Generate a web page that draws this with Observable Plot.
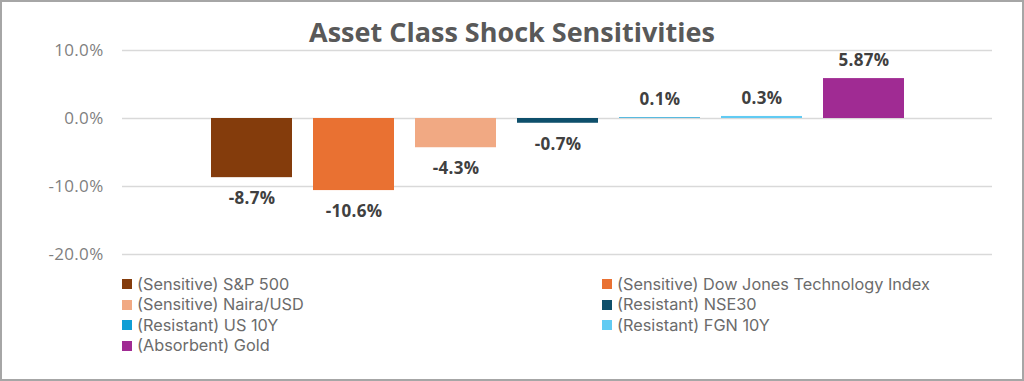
<!DOCTYPE html>
<html>
<head>
<meta charset="utf-8">
<script src="https://cdn.jsdelivr.net/npm/d3@7"></script>
<script src="https://cdn.jsdelivr.net/npm/@observablehq/plot@0.6"></script>
<style>
  html, body { margin: 0; padding: 0; background: #fff; }
  #wrap { position: relative; width: 1024px; height: 381px; overflow: hidden; font-family: "Open Sans", sans-serif; }
  #border { position: absolute; left: 0; top: 0; width: 1024px; height: 381px; box-sizing: border-box; border: 2px solid #a6a6a6; pointer-events: none; }
  #title { position: absolute; left: 0; top: 12px; width: 1024px; text-align: center; font-size: 27px; font-weight: 700; color: #595959; line-height: 40px; }
  #chart { position: absolute; left: 0; top: 0; }
  #chart svg text { letter-spacing: 0.3px; }
  #legend { position: absolute; left: 122px; top: 274px; display: grid; grid-template-columns: 480px 420px; row-gap: 0.5px; }
  .item { display: flex; align-items: center; height: 20px; line-height: 19px; font-family: Inter, sans-serif; font-size: 16.3px; color: #6b6b6b; white-space: nowrap; }
  .item span { line-height: 19px; }
  .sw { width: 10px; height: 10px; margin-right: 5px; flex: none; }
</style>
</head>
<body>
<div id="wrap">
  <div id="chart"></div>
  <div id="title">Asset Class Shock Sensitivities</div>
  <div id="legend"></div>
  <div id="border"></div>
</div>
<script>
const names = [
  "(Sensitive) S&P 500",
  "(Sensitive) Dow Jones Technology Index",
  "(Sensitive) Naira/USD",
  "(Resistant) NSE30",
  "(Resistant) US 10Y",
  "(Resistant) FGN 10Y",
  "(Absorbent) Gold"
];
const values = [-8.7, -10.6, -4.3, -0.7, 0.1, 0.3, 5.87];
const labels = ["-8.7%", "-10.6%", "-4.3%", "-0.7%", "0.1%", "0.3%", "5.87%"];
const colors = ["#843C0C", "#E97132", "#F1A983", "#0E4F6B", "#0F9ED5", "#61CBF3", "#A02B93"];
const yTicks = [-20, -10, 0, 10];

const data = names.map((n, i) => ({name: n, value: values[i], label: labels[i]}));

const chart = Plot.plot({
  width: 1024,
  height: 270,
  marginLeft: 122,
  marginRight: 32,
  marginTop: 50,
  marginBottom: 16,
  style: {fontFamily: "Open Sans, sans-serif", background: "transparent"},
  x: {domain: names, paddingInner: 0.207, paddingOuter: 0.855, axis: null},
  y: {domain: [-20, 10], ticks: yTicks},
  color: {domain: names, range: colors},
  marks: [
    Plot.ruleY(yTicks, {stroke: "#d9d9d9", strokeWidth: 1.5}),
    Plot.axisY(yTicks, {tickSize: 0, tickPadding: 19, tickFormat: d => d.toFixed(1) + "%", fontSize: 17, fill: "#7f7f7f", label: null}),
    Plot.barY(data, {x: "name", y: "value", fill: "name"}),
    Plot.text(data.filter(d => d.value >= 0), {x: "name", y: "value", text: "label", dy: -18, fontSize: 17, fontWeight: 700, fill: "#404040"}),
    Plot.text(data.filter(d => d.value < 0), {x: "name", y: "value", text: "label", dy: 21, fontSize: 17, fontWeight: 700, fill: "#404040"})
  ]
});
document.getElementById("chart").appendChild(chart);

const legend = document.getElementById("legend");
names.forEach((n, i) => {
  const item = document.createElement("div");
  item.className = "item";
  const sw = document.createElement("span");
  sw.className = "sw";
  sw.style.background = colors[i];
  const t = document.createElement("span");
  t.textContent = n;
  item.appendChild(sw);
  item.appendChild(t);
  legend.appendChild(item);
});
</script>
</body>
</html>
